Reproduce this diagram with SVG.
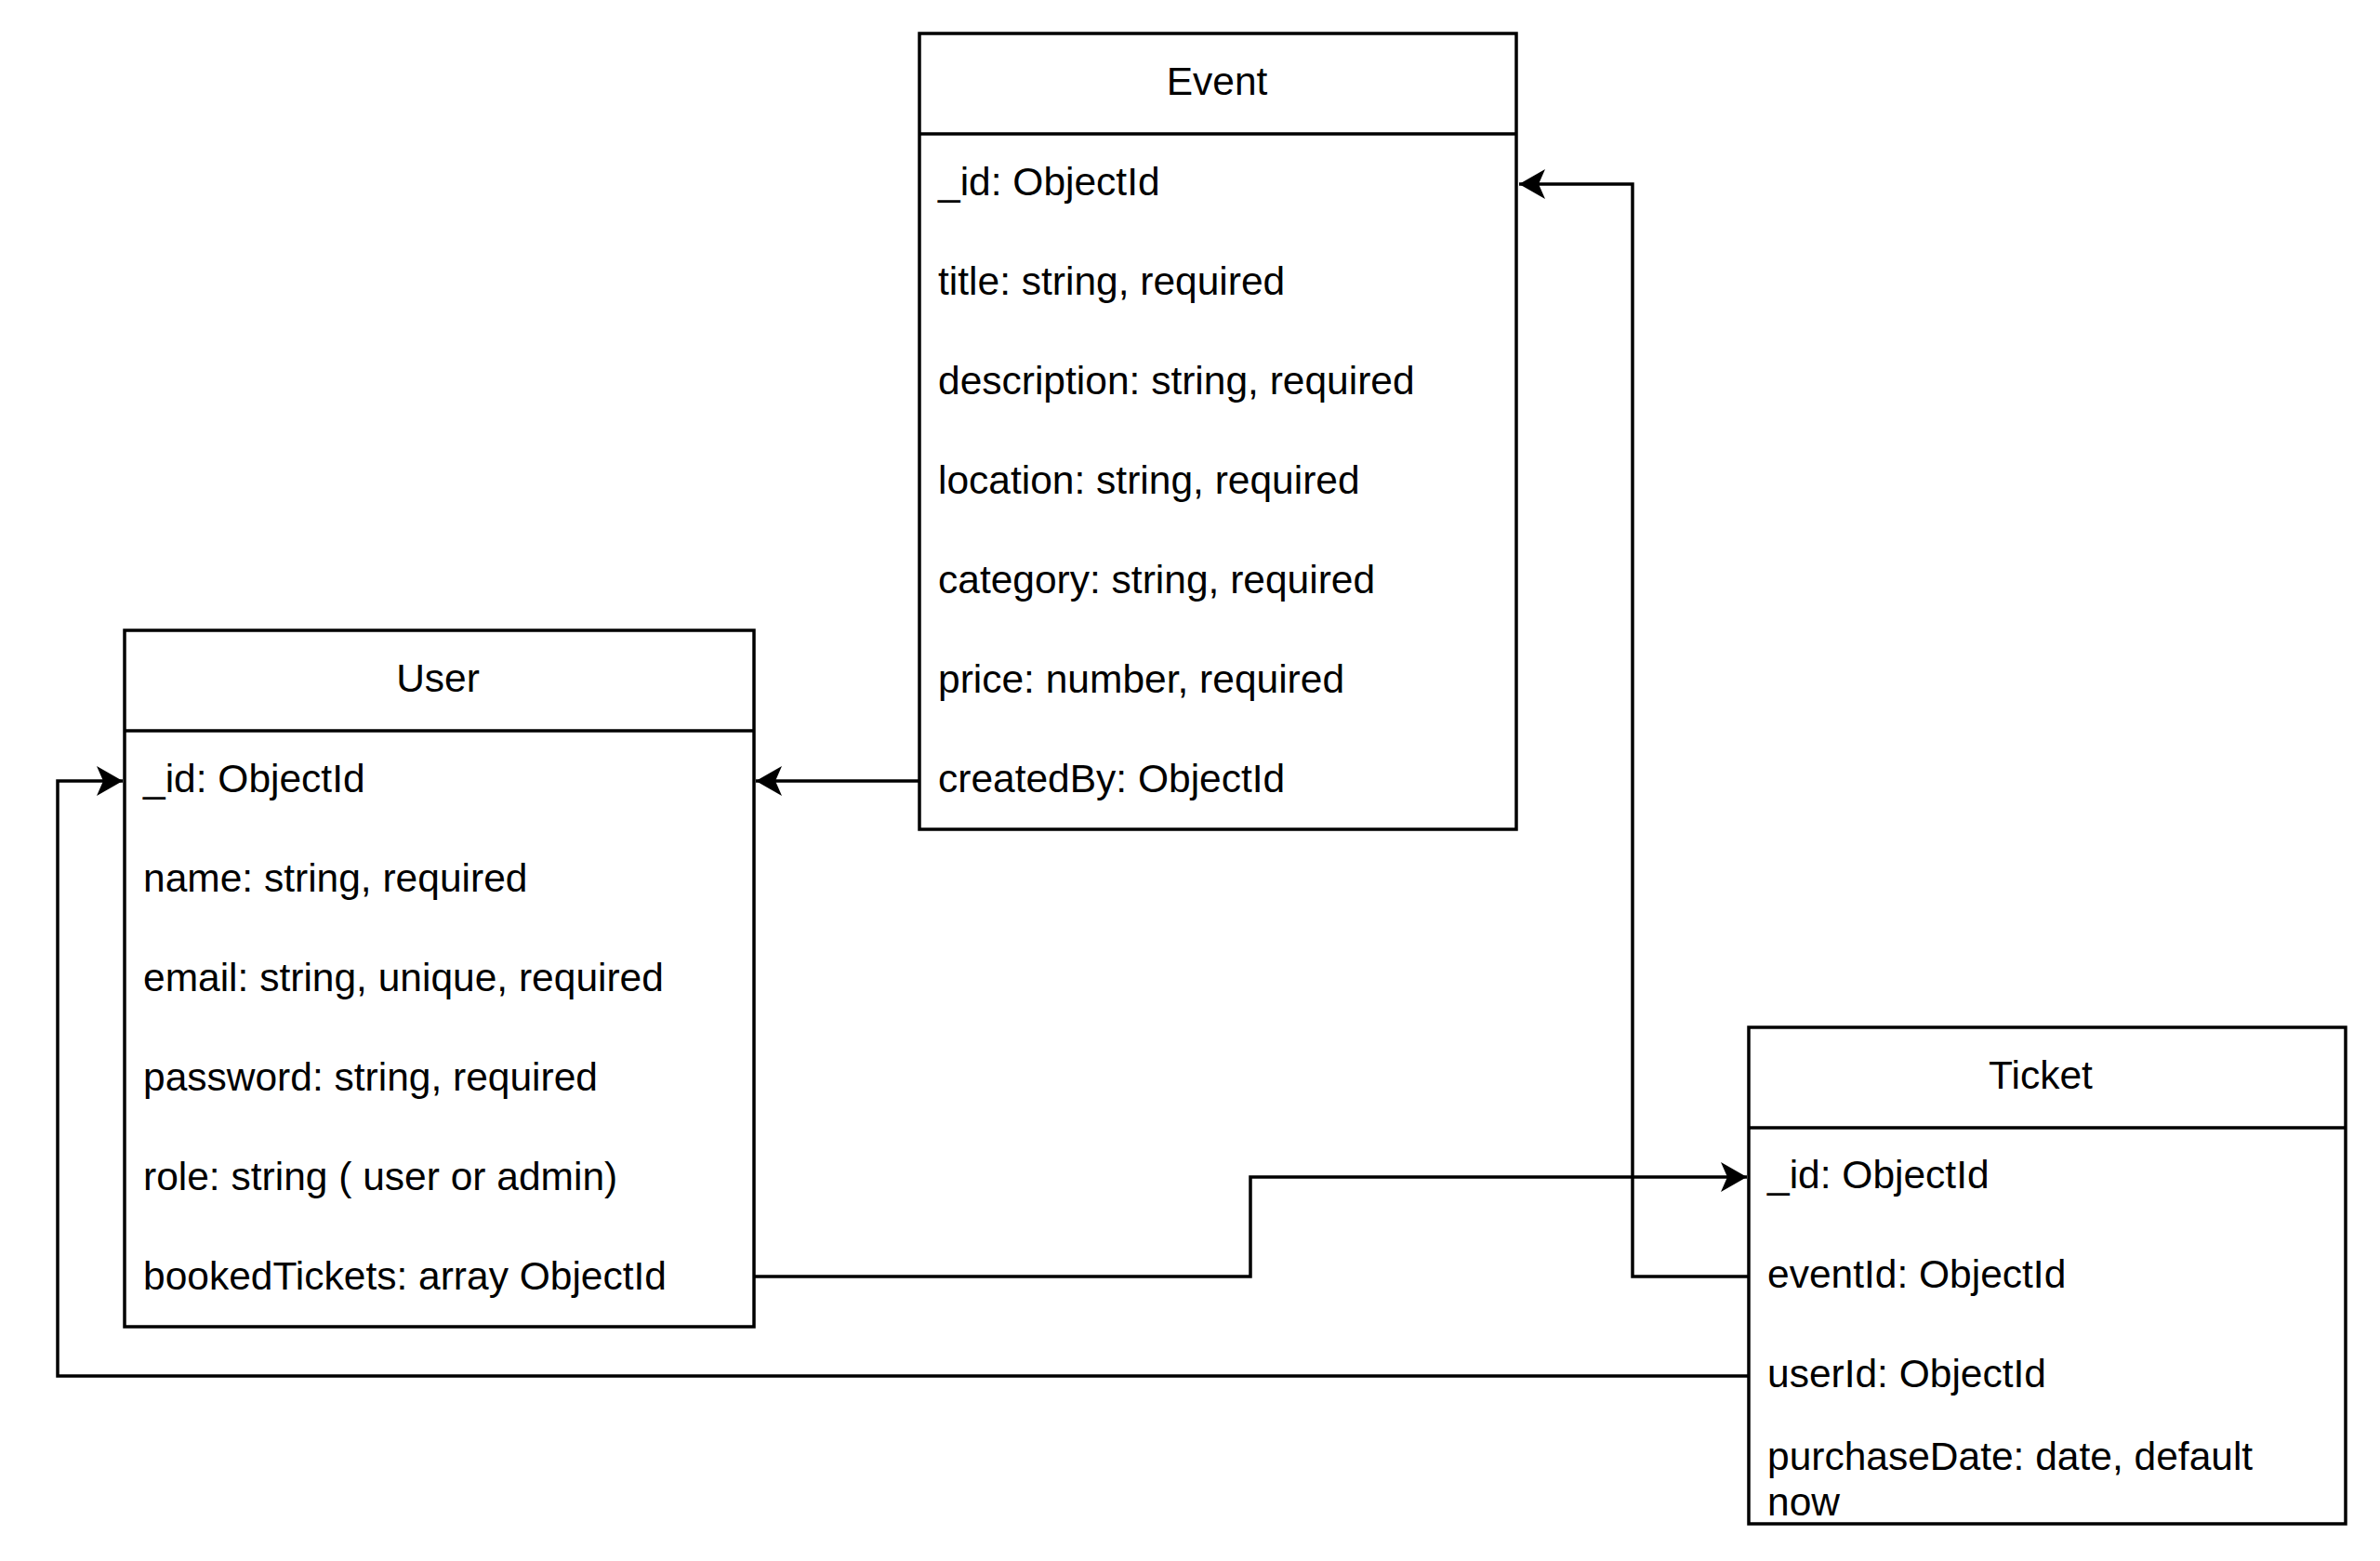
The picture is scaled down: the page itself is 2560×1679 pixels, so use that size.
<svg xmlns="http://www.w3.org/2000/svg" width="2560" height="1679" viewBox="0 0 2560 1679">
<style>
.box{fill:#fff;stroke:#000;stroke-width:3.5}
.sep{stroke:#000;stroke-width:3.5}
.t{font-family:"Liberation Sans",Arial,sans-serif;font-size:42.5px;fill:#000}
.h{text-anchor:middle}
.c{fill:none;stroke:#000;stroke-width:3.5}
</style>
<defs>
<marker id="arr" markerUnits="userSpaceOnUse" markerWidth="30" markerHeight="32" viewBox="0 0 30 32" refX="28" refY="16" orient="auto">
<path d="M28,16 L0,0 L7,16 L0,32 Z" fill="#000"/>
</marker>
</defs>
<rect width="2560" height="1679" fill="#fff"/>
<g id="connectors">
<path class="c" d="M989,840 L813,840" marker-end="url(#arr)"/>
<path class="c" d="M811,1373 L1345,1373 L1345,1266 L1879,1266" marker-end="url(#arr)"/>
<path class="c" d="M1881,1373 L1756,1373 L1756,198 L1634,198" marker-end="url(#arr)"/>
<path class="c" d="M1881,1480 L62,1480 L62,840 L132,840" marker-end="url(#arr)"/>
</g>
<g id="event">
<rect class="box" x="989" y="36" width="642" height="856"/>
<line class="sep" x1="989" y1="144" x2="1631" y2="144"/>
<text class="t h" x="1309" y="102">Event</text>
<text class="t" x="1009" y="210">_id: ObjectId</text>
<text class="t" x="1009" y="317">title: string, required</text>
<text class="t" x="1009" y="424">description: string, required</text>
<text class="t" x="1009" y="531">location: string, required</text>
<text class="t" x="1009" y="638">category: string, required</text>
<text class="t" x="1009" y="745">price: number, required</text>
<text class="t" x="1009" y="852">createdBy: ObjectId</text>
</g>
<g id="user">
<rect class="box" x="134" y="678" width="677" height="749"/>
<line class="sep" x1="134" y1="786" x2="811" y2="786"/>
<text class="t h" x="471" y="744">User</text>
<text class="t" x="154" y="852">_id: ObjectId</text>
<text class="t" x="154" y="959">name: string, required</text>
<text class="t" x="154" y="1066">email: string, unique, required</text>
<text class="t" x="154" y="1173">password: string, required</text>
<text class="t" x="154" y="1280">role: string ( user or admin)</text>
<text class="t" x="154" y="1387">bookedTickets: array ObjectId</text>
</g>
<g id="ticket">
<rect class="box" x="1881" y="1105" width="642" height="534"/>
<line class="sep" x1="1881" y1="1213" x2="2523" y2="1213"/>
<text class="t h" x="2195" y="1171">Ticket</text>
<text class="t" x="1901" y="1278">_id: ObjectId</text>
<text class="t" x="1901" y="1385">eventId: ObjectId</text>
<text class="t" x="1901" y="1492">userId: ObjectId</text>
<text class="t" x="1901" y="1581">purchaseDate: date, default</text>
<text class="t" x="1901" y="1630">now</text>
</g>
</svg>
